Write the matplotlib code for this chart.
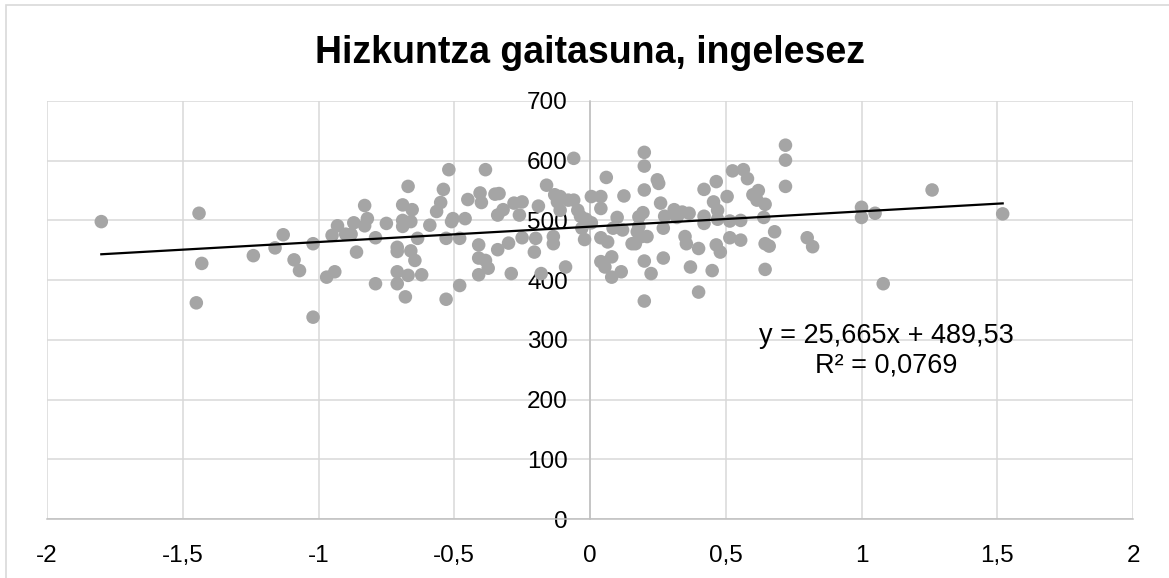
import numpy as np
import matplotlib
matplotlib.use('Agg')
import matplotlib.pyplot as plt
from matplotlib.patches import Rectangle

plt.rcParams['font.family'] = ['Liberation Sans', 'DejaVu Sans']

# points (x = index, y = score)
x_vals = [-1.80, -1.44, -1.43, -1.45, -1.24, -1.16, -1.13, -1.09, -1.07, -1.02,
          -1.02, -0.97, -0.94, -0.95, -0.93, -0.90, -0.88, -0.87, -0.86, -0.83,
          -0.83, -0.82, -0.79, -0.79, -0.75, -0.71, -0.71, -0.71, -0.71, -0.69,
          -0.69, -0.69, -0.67, -0.68, -0.67, -0.655, -0.66, -0.635, -0.66, -0.645,
          -0.62, -0.59, -0.565, -0.55, -0.54, -0.52, -0.51, -0.505, -0.53, -0.53,
          -0.48, -0.46, -0.48, -0.45, -0.41, -0.41, -0.41, -0.405, -0.40, -0.385,
          -0.385, -0.375, -0.35, -0.335, -0.34, -0.34, -0.32, -0.30, -0.29, -0.28,
          -0.25, -0.25, -0.26, -0.20, -0.205, -0.19, -0.18, -0.16, -0.13, -0.12,
          -0.135, -0.135, -0.06, -0.11, -0.11, -0.08, -0.06, -0.045, -0.035, -0.015,
          0.005, -0.03, -0.02, -0.09, 0.005, 0.04, 0.04, 0.06, 0.04, 0.065,
          0.04, 0.055, 0.08, 0.08, 0.115, 0.10, 0.085, 0.12, 0.125, 0.155,
          0.167, 0.18, 0.195, 0.20, 0.20, 0.20, 0.20, 0.20, 0.18, 0.19,
          0.21, 0.174, 0.225, 0.248, 0.253, 0.26, 0.27, 0.275, 0.27, 0.31,
          0.32, 0.34, 0.365, 0.35, 0.355, 0.37, 0.40, 0.40, 0.42, 0.42,
          0.42, 0.45, 0.455, 0.465, 0.465, 0.48, 0.47, 0.47, 0.72, 0.72,
          0.72, 0.525, 0.565, 0.58, 0.505, 0.60, 0.62, 0.615, 0.645, 0.64,
          0.555, 0.515, 0.515, 0.555, 0.68, 0.645, 0.66, 0.645, 0.80, 0.82,
          1.0, 1.0, 1.05, 1.08, 1.26, 1.52]
y_vals = [498, 512, 428, 362, 441, 454, 476, 434, 416, 461,
          338, 405, 414, 475, 491, 477, 477, 496, 447, 525,
          491, 503, 471, 394, 495, 394, 414, 448, 455, 490,
          500, 526, 557, 372, 408, 518, 498, 470, 449, 433,
          409, 492, 515, 530, 552, 585, 498, 503, 470, 368,
          470, 503, 391, 535, 459, 437, 409, 546, 530, 585,
          433, 420, 544, 545, 451, 509, 518, 462, 411, 529,
          531, 471, 509, 470, 447, 524, 411, 559, 543, 531,
          473, 461, 604, 540, 517, 534, 534, 517, 507, 502,
          496, 487, 468, 422, 540, 540, 520, 572, 471, 464,
          431, 422, 439, 405, 414, 505, 487, 484, 541, 461,
          461, 506, 513, 614, 591, 551, 432, 365, 490, 473,
          473, 481, 411, 568, 562, 529, 487, 507, 437, 518,
          505, 514, 512, 473, 461, 422, 380, 453, 552, 507,
          495, 416, 531, 565, 459, 447, 517, 502, 626, 601,
          557, 583, 585, 570, 540, 543, 550, 534, 527, 505,
          500, 499, 471, 467, 481, 461, 457, 418, 471, 456,
          522, 505, 512, 394, 551, 511]

# trendline as printed on the chart
slope = 25.665
intercept = 489.53
eq_text = 'y = 25,665x + 489,53\nR² = 0,0769'

x_ticks = [-2, -1.5, -1, -0.5, 0, 0.5, 1, 1.5, 2]
x_tick_labels = ['-2', '-1,5', '-1', '-0,5', '0', '0,5', '1', '1,5', '2']
y_ticks = [0, 100, 200, 300, 400, 500, 600, 700]
y_tick_labels = ['0', '100', '200', '300', '400', '500', '600', '700']

fig = plt.figure(figsize=(11.69, 5.78), dpi=100)
ax = fig.add_axes([47/1169, 1-519/578, (1133-47)/1169, (519-101)/578])

ax.scatter(x_vals, y_vals, s=95, color='#a5a5a5', edgecolors='none', zorder=3)

tx = np.array([min(x_vals), max(x_vals)])
ax.plot(tx, slope*tx + intercept, color='black', lw=1.6, zorder=4)

ax.set_xlim(-2, 2)
ax.set_ylim(0, 700)
ax.set_xticks(x_ticks)
ax.set_xticklabels(x_tick_labels)
ax.set_yticks(y_ticks)
ax.set_yticklabels(y_tick_labels)
ax.grid(True, color='#d9d9d9', lw=1.1, zorder=0)
ax.set_axisbelow(True)

for s in ['top', 'right']:
    ax.spines[s].set_visible(False)
ax.spines['left'].set_position(('data', 0))
ax.spines['left'].set_color('#bfbfbf')
ax.spines['bottom'].set_color('#bfbfbf')
ax.spines['left'].set_linewidth(1.1)
ax.spines['bottom'].set_linewidth(1.1)
ax.tick_params(axis='both', length=0, labelsize=17.5, colors='black')
ax.tick_params(axis='y', pad=16)
ax.tick_params(axis='x', pad=18.5)
for lab in ax.get_yticklabels():
    lab.set_zorder(5)

fig.text(590/1169, 1-53/578, 'Hizkuntza gaitasuna, ingelesez', ha='center', va='center',
         fontsize=27, fontweight='bold')
fig.text(886/1169, 1-351/578, eq_text, ha='center', va='center', fontsize=19.5,
         multialignment='center', linespacing=1.2)

# light border of the chart area
fig.patches.append(Rectangle((6/1169, -0.1), 1.2, 1.1 - 5/578, transform=fig.transFigure,
                             fill=False, edgecolor='#d9d9d9', lw=1.2))

fig.savefig('out.png', dpi=100)
